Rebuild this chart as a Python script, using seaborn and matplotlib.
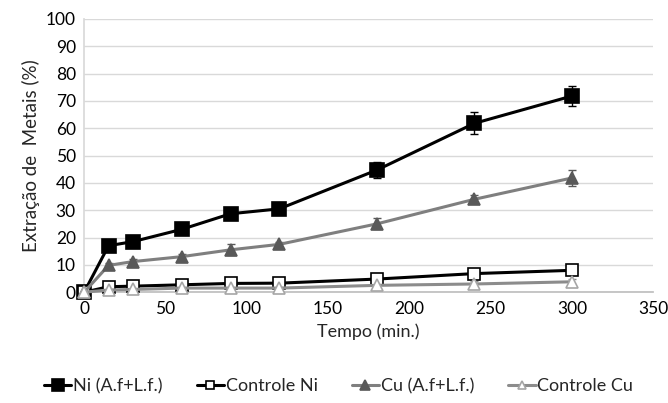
import numpy as np
import pandas as pd
import matplotlib
matplotlib.use('Agg')
import matplotlib.pyplot as plt
import seaborn as sns

sns.set_theme(style='white')
plt.rcParams['font.family'] = ['Lato', 'DejaVu Sans']

# data
tempo = [0, 15, 30, 60, 90, 120, 180, 240, 300]
ni = [0, 17, 18.5, 23, 28.7, 30.5, 44.7, 61.8, 71.8]
ni_err = [0.5, 1, 1, 1, 1.2, 1, 3, 4, 3.5]
ctrl_ni = [0, 2, 2.2, 2.7, 3.2, 3.3, 4.8, 6.8, 8]
ctrl_ni_err = [0.5, 1, 1, 1, 1, 1, 1, 1, 1]
cu = [0, 9.8, 11.2, 13, 15.5, 17.5, 25, 34, 41.8]
cu_err = [0.5, 1, 1, 1, 2, 1, 2, 1.5, 3]
ctrl_cu = [0, 0.8, 1, 1.5, 1.5, 1.5, 2.5, 3, 3.8]
ctrl_cu_err = [0.5, 1, 1, 1, 1, 1, 1, 1, 1]

series = [
    ('Ni (A.f+L.f.)', ni, ni_err, 'black', 's', 'black', 'black', 10),
    ('Controle Ni', ctrl_ni, ctrl_ni_err, 'black', 's', 'white', 'black', 8),
    ('Cu (A.f+L.f.)', cu, cu_err, '#7f7f7f', '^', '#595959', '#595959', 9),
    ('Controle Cu', ctrl_cu, ctrl_cu_err, '#8c8c8c', '^', 'white', '#a6a6a6', 8),
]

fig = plt.figure(figsize=(6.68, 4.03), dpi=100)
ax = fig.add_axes([0.126, 0.275, 0.852, 0.678])

for name, vals, err, lc, mk, mfc, mec, ms in series:
    df = pd.DataFrame({'Tempo': tempo, 'val': vals})
    ax.errorbar(tempo, vals, yerr=err, fmt='none', ecolor=mec if mfc != 'white' else lc,
                elinewidth=1, capsize=3, capthick=1, zorder=2)
    sns.lineplot(data=df, x='Tempo', y='val', ax=ax, color=lc, linewidth=2.2,
                 marker=mk, markersize=ms, markerfacecolor=mfc, markeredgecolor=mec,
                 markeredgewidth=1.2, label=name, zorder=3)

ax.set_xlim(0, 350)
ax.set_ylim(0, 100)
ax.set_xticks(np.arange(0, 351, 50))
ax.set_yticks(np.arange(0, 101, 10))
ax.yaxis.grid(True, color='#d9d9d9', linewidth=1)
ax.set_axisbelow(True)
for s in ['top', 'right']:
    ax.spines[s].set_visible(False)
ax.spines['left'].set_color('#d9d9d9')
ax.spines['bottom'].set_color('#bfbfbf')
ax.tick_params(axis='both', labelsize=12.5, length=0, pad=6, colors='black')
ax.set_xlabel('Tempo (min.)', fontsize=13, labelpad=5)
ax.set_ylabel('Extração de  Metais (%)', fontsize=13.5, labelpad=4)
for l in ax.lines:
    l.set_clip_on(False)

ax.legend(loc='upper center', bbox_to_anchor=(0.447, -0.255), ncol=4, frameon=False,
          fontsize=13, handlelength=1.5, handletextpad=0.1, columnspacing=1.9,
          markerscale=0.8)

fig.savefig('out.png', dpi=100)
